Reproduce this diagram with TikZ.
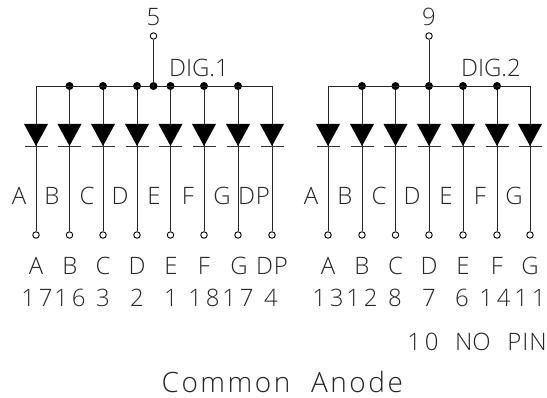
\documentclass[tikz,border=0pt]{standalone}
\usepackage{fontspec}
\setmainfont[UprightFont=* Light]{Open Sans}
\newfontface\cadfont[LetterSpace=9]{Open Sans Light}
\newfontface\labfont[LetterSpace=4]{Open Sans Light}
\newfontface\digfont{Open Sans Light}
\newfontface\numfont[LetterSpace=16]{Open Sans Light}
\begin{document}
\begin{tikzpicture}[x=1pt,y=-1pt,
  wire/.style={line width=0.9pt,black!85},
  pin/.style={circle,draw=black,line width=0.9pt,fill=white,inner sep=0pt,minimum size=6.5pt},
  jdot/.style={circle,fill=black,inner sep=0pt,minimum size=8pt},
  lab/.style={anchor=base,inner sep=0pt,text=black!85,font=\fontsize{24}{24}\labfont},
  numl/.style={lab,font=\fontsize{24}{24}\numfont},
  digl/.style={lab,font=\fontsize{24}{24}\digfont},
  dio/.style={fill=black,draw=none},
  bar/.style={line width=0.7pt,black!80}]
\useasboundingbox (0,0) rectangle (547,398);
% Digit 1
\foreach \n/\x/\d/\inx/\inl/\botx/\num/\numx in {
  1/36/0/19/A/36/17/37, 2/69.5/1/52/B/70/16/70, 3/103/1/87/C/103/3/103, 4/137/1/120/D/137/2/137,
  5/170.5/1/154/E/171/1/171, 6/204/1/188/F/204/18/204, 7/238/1/222/G/239/17/238, 8/272/0/254/DP/272/4/271}{
  \coordinate (a\n) at (\x,86);
  \node[pin] (p\n) at (\x,235) {};
  \draw[wire] (a\n) -- (p\n);
  \fill[dio] (\x-12,124) -- (\x+12,124) -- (\x,146) -- cycle;
  \draw[bar] (\x-11.5,146) -- (\x+11.5,146);
  \ifnum\d=1 \node[jdot] at (a\n) {};\fi
  \node[lab] at (\inx,205) {\inl};
  \node[lab] at (\botx,275) {\inl};
  \node[numl] at (\numx,307) {\num};
}
\draw[wire] (a1) -- (a8);
\coordinate (j1) at (153.5,86);
\node[jdot] at (j1) {};
\node[pin] (c1) at (153.5,36) {};
\draw[wire] (c1) -- (j1);
\node[lab] at (153.5,26) {5};
\node[digl] at (199,77) {DIG.1};
% Digit 2
\foreach \n/\x/\d/\inx/\inl/\num/\numx in {
  1/328/0/311/A/13/328, 2/362/1/345/B/12/362, 3/395.5/1/379/C/8/395, 4/429/1/412/D/7/429,
  5/463/1/446/E/6/462, 6/497/1/480/F/14/495, 7/530/0/514/G/11/530}{
  \coordinate (b\n) at (\x,86);
  \node[pin] (q\n) at (\x,235) {};
  \draw[wire] (b\n) -- (q\n);
  \fill[dio] (\x-12,124) -- (\x+12,124) -- (\x,146) -- cycle;
  \draw[bar] (\x-11.5,146) -- (\x+11.5,146);
  \ifnum\d=1 \node[jdot] at (b\n) {};\fi
  \node[lab] at (\inx,205) {\inl};
  \node[lab] at (\x,275) {\inl};
  \node[numl] at (\numx,307) {\num};
}
\draw[wire] (b1) -- (b7);
\node[pin] (c2) at (429,36) {};
\draw[wire] (c2) -- (b4);
\node[lab] at (429,26) {9};
\node[digl] at (491,77) {DIG.2};
% Notes
\node[numl] at (423,351) {10};
\node[digl] at (473,351) {NO};
\node[lab] at (527,351) {PIN};
\node[lab,font=\fontsize{28}{28}\cadfont] at (226,393) {Common};
\node[lab,font=\fontsize{28}{28}\cadfont] at (357,393) {Anode};
\end{tikzpicture}
\end{document}
